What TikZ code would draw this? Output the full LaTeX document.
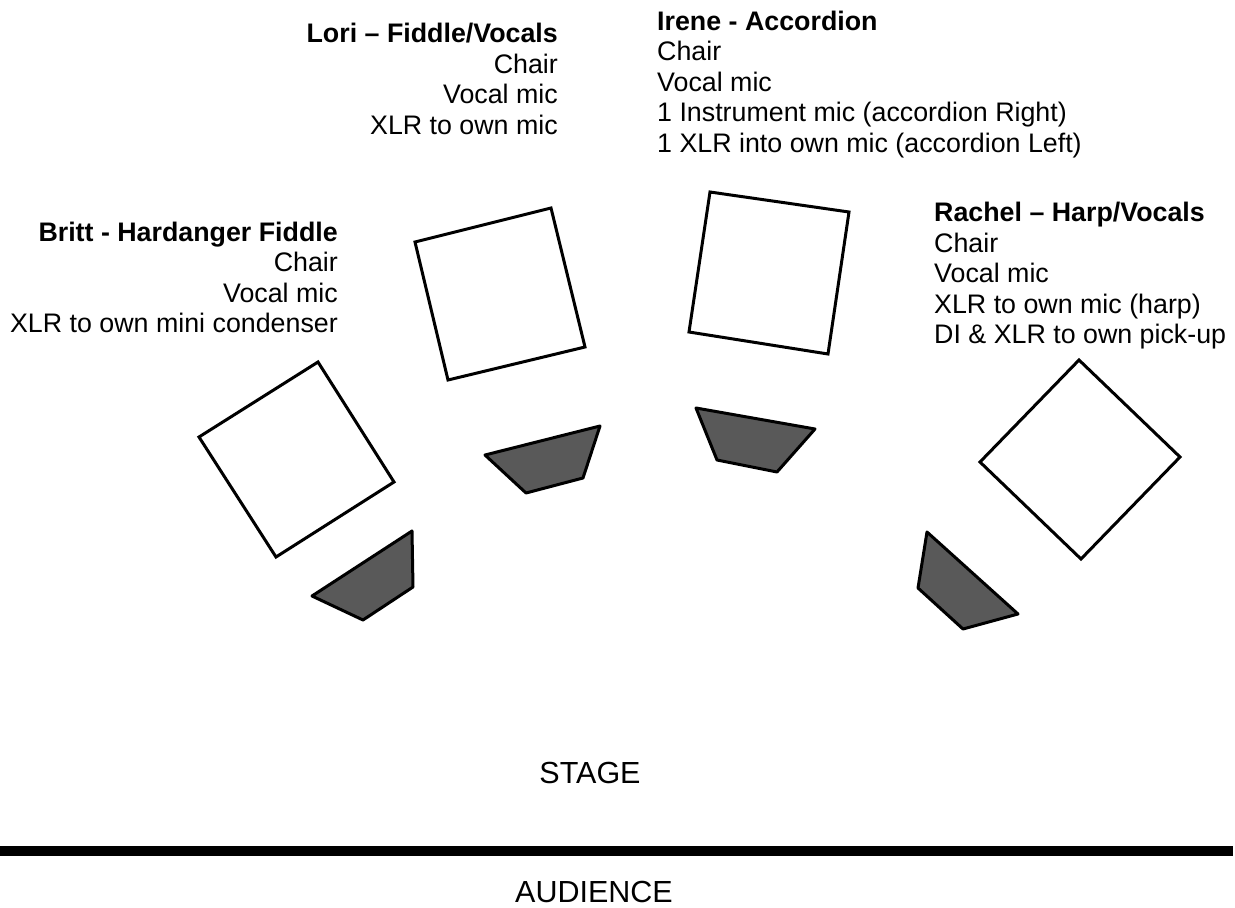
\documentclass[tikz,border=0pt]{standalone}
\usepackage{fontspec}
\setmainfont{Liberation Sans}
\usetikzlibrary{positioning}
\tikzset{
	chair/.style={line width=3pt, line join=miter, fill=white},
	mic/.style={line width=3pt, line join=round, fill=black!65},
	who/.style={inner sep=0pt, font=\fontsize{26.8}{30.5}\selectfont},
	side/.style={inner sep=0pt, font=\fontsize{30.5}{34}\selectfont}
}

\begin{document}
\begin{tikzpicture}[x=1pt, y=-1pt]
		%%%%% START %%%%%
		\useasboundingbox (0, 0) rectangle (1235, 908);
		
		\node[who, anchor=north east, align=right] (lori) at (558, 23) {\textbf{Lori – Fiddle/Vocals}\\Chair\\Vocal mic\\XLR to own mic};
		\node[who, anchor=north west, align=left] (irene) at (657, 10.5) {\textbf{Irene - Accordion}\\Chair\\Vocal mic\\1 Instrument mic (accordion Right)\\1 XLR into own mic (accordion Left)};
		\node[who, anchor=north east, align=right] (britt) at (338, 221.5) {\textbf{Britt - Hardanger Fiddle}\\Chair\\Vocal mic\\XLR to own mini condenser};
		\node[who, anchor=north west, align=left] (rachel) at (934, 202) {\textbf{Rachel – Harp/Vocals}\\Chair\\Vocal mic\\XLR to own mic (harp)\\DI \& XLR to own pick-up};
		
		% chairs
		\draw[chair] (318, 362) -- (199, 437) -- (276, 557) -- (394, 482) -- cycle;
		\draw[chair] (551, 208) -- (415, 242) -- (448, 380) -- (585, 347) -- cycle;
		\draw[chair] (710, 192) -- (849, 212) -- (828, 354) -- (689, 332) -- cycle;
		\draw[chair] (1079, 360) -- (980, 462) -- (1081, 559) -- (1180, 457) -- cycle;
		
		% mics
		\draw[mic] (412, 531) -- (413, 587) -- (363, 620) -- (312, 596) -- cycle;
		\draw[mic] (600, 426) -- (583, 478) -- (526, 493) -- (485, 455) -- cycle;
		\draw[mic] (696, 408) -- (815, 429) -- (777, 472) -- (717, 460) -- cycle;
		\draw[mic] (927, 532) -- (918, 588) -- (963, 629) -- (1018, 614) -- cycle;
		
		\node[side, anchor=base] (stage) at (590, 783) {STAGE};
		\draw[fill=black] (0, 846) rectangle (1232, 855);
		\node[side, anchor=base] (audience) at (594, 902) {AUDIENCE};
		
		%%%%% END %%%%%
	\end{tikzpicture}
\end{document}
